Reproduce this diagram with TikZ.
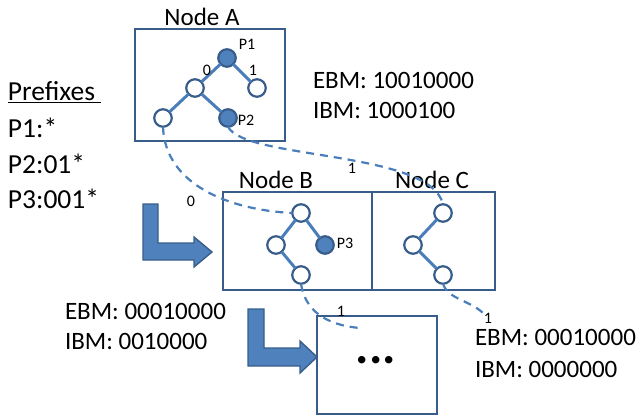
\documentclass[tikz,border=0pt]{standalone}
\usepackage{fontspec}
\setmainfont{Carlito}
\definecolor{lineblue}{RGB}{74,126,187}
\definecolor{fillblue}{RGB}{79,129,189}
\definecolor{darkblue}{RGB}{56,93,138}
\begin{document}
\begin{tikzpicture}[x=1pt,y=-1pt,
  every node/.style={inner sep=0pt, outer sep=0pt},
  box/.style={draw=darkblue, line width=2.4pt, anchor=north west},
  tn/.style={circle, draw=darkblue, fill=white, line width=2.2pt, minimum size=17.5pt},
  tf/.style={tn, fill=fillblue},
  edge/.style={draw=lineblue, line width=3pt},
  link/.style={draw=lineblue, line width=2.2pt, dash pattern=on 8pt off 6pt},
  big/.style={font=\fontsize{25}{30}\selectfont},
  huge/.style={font=\fontsize{27.5}{32}\selectfont},
  small/.style={font=\fontsize{16}{18}\selectfont},
  blockarrow/.style={fill=fillblue, draw=darkblue, line width=1.4pt, line join=miter}
]
\useasboundingbox (0,0) rectangle (642,417);

% boxes
\node[box, minimum width=150pt, minimum height=112pt] (boxA) at (135,29) {};
\node[box, minimum width=149pt, minimum height=98pt] (boxB) at (223,192) {};
\node[box, minimum width=123pt, minimum height=98pt] (boxC) at (372,192) {};
\node[box, minimum width=120pt, minimum height=98pt] (boxD) at (317,316) {};

% box titles
\node[big, anchor=base] (tA) at (202,26) {Node A};
\node[big, anchor=base] (tB) at (276,188) {Node B};
\node[big, anchor=base] (tC) at (432,188) {Node C};

% tree in A
\node[tf] (a1) at (227,58) {};
\node[tn] (a2) at (195,88) {};
\node[tn] (a3) at (257,88) {};
\node[tn] (a4) at (163,118) {};
\node[tf] (a5) at (228,118) {};
\draw[edge] (a1) -- (a2);
\draw[edge] (a1) -- (a3);
\draw[edge] (a2) -- (a4);
\draw[edge] (a2) -- (a5);
\node[small] (lP1) at (247,44) {P1};
\node[small] (lP2) at (246,120) {P2};
\node[small] (l0a) at (207,70) {0};
\node[small] (l1a) at (253,70) {1};

% tree in B
\node[tn] (b1) at (301,213) {};
\node[tn] (b2) at (276,245) {};
\node[tf] (b3) at (325,245) {};
\node[tn] (b4) at (301,275) {};
\draw[edge] (b1) -- (b2);
\draw[edge] (b1) -- (b3);
\draw[edge] (b2) -- (b4);
\node[small] (lP3) at (345,243) {P3};

% tree in C
\node[tn] (c1) at (443,213) {};
\node[tn] (c2) at (413,245) {};
\node[tn] (c3) at (443,275) {};
\draw[edge] (c1) -- (c2);
\draw[edge] (c2) -- (c3);

% dashed links
\coordinate (e3) at (360,328);
\coordinate (e4) at (486,316);
\draw[link] (a4.south) .. controls (165,185) and (230,210) .. (b1.west);
\draw[link] (a5.south) .. controls (245,160) and (430,150) .. (c1.north);
\draw[link] (b4.south) .. controls (305,310) and (325,325) .. (e3);
\draw[link] (c3.south) .. controls (448,300) and (472,300) .. (e4);
\node[small] (l0b) at (191,201) {0};
\node[small] (l1b) at (352,168) {1};
\node[small] (l1c) at (341,311) {1};
\node[small] (l1d) at (488,318) {1};

% dots
\node[font=\fontsize{50}{50}\selectfont\bfseries, anchor=base] (dots) at (376,363) {...};

% block arrows
\draw[blockarrow] (143,204) -- (158,204) -- (158,243) -- (194,243) -- (194,237) -- (212,252) -- (194,267) -- (194,260) -- (143,260) -- cycle;
\draw[blockarrow] (248,309) -- (264,309) -- (264,348) -- (300,348) -- (300,341) -- (317,357) -- (300,373) -- (300,366) -- (248,366) -- cycle;

% prefixes
\node[huge, anchor=base west] (pre) at (8,101) {\underline{Prefixes\ }};
\node[huge, anchor=base west] (p1) at (8,137) {P1:*};
\node[huge, anchor=base west] (p2) at (8,173) {P2:01*};
\node[huge, anchor=base west] (p3) at (8,208) {P3:001*};

% bitmaps
\node[big, anchor=base west] (ebmA) at (313,89) {EBM: 10010000};
\node[big, anchor=base west] (ibmA) at (313,118) {IBM: 1000100};
\node[big, anchor=base west] (ebmB) at (65,319) {EBM: 00010000};
\node[big, anchor=base west] (ibmB) at (65,349) {IBM: 0010000};
\node[big, anchor=base west] (ebmC) at (475,345) {EBM: 00010000};
\node[big, anchor=base west] (ibmC) at (475,377) {IBM: 0000000};
\end{tikzpicture}
\end{document}
